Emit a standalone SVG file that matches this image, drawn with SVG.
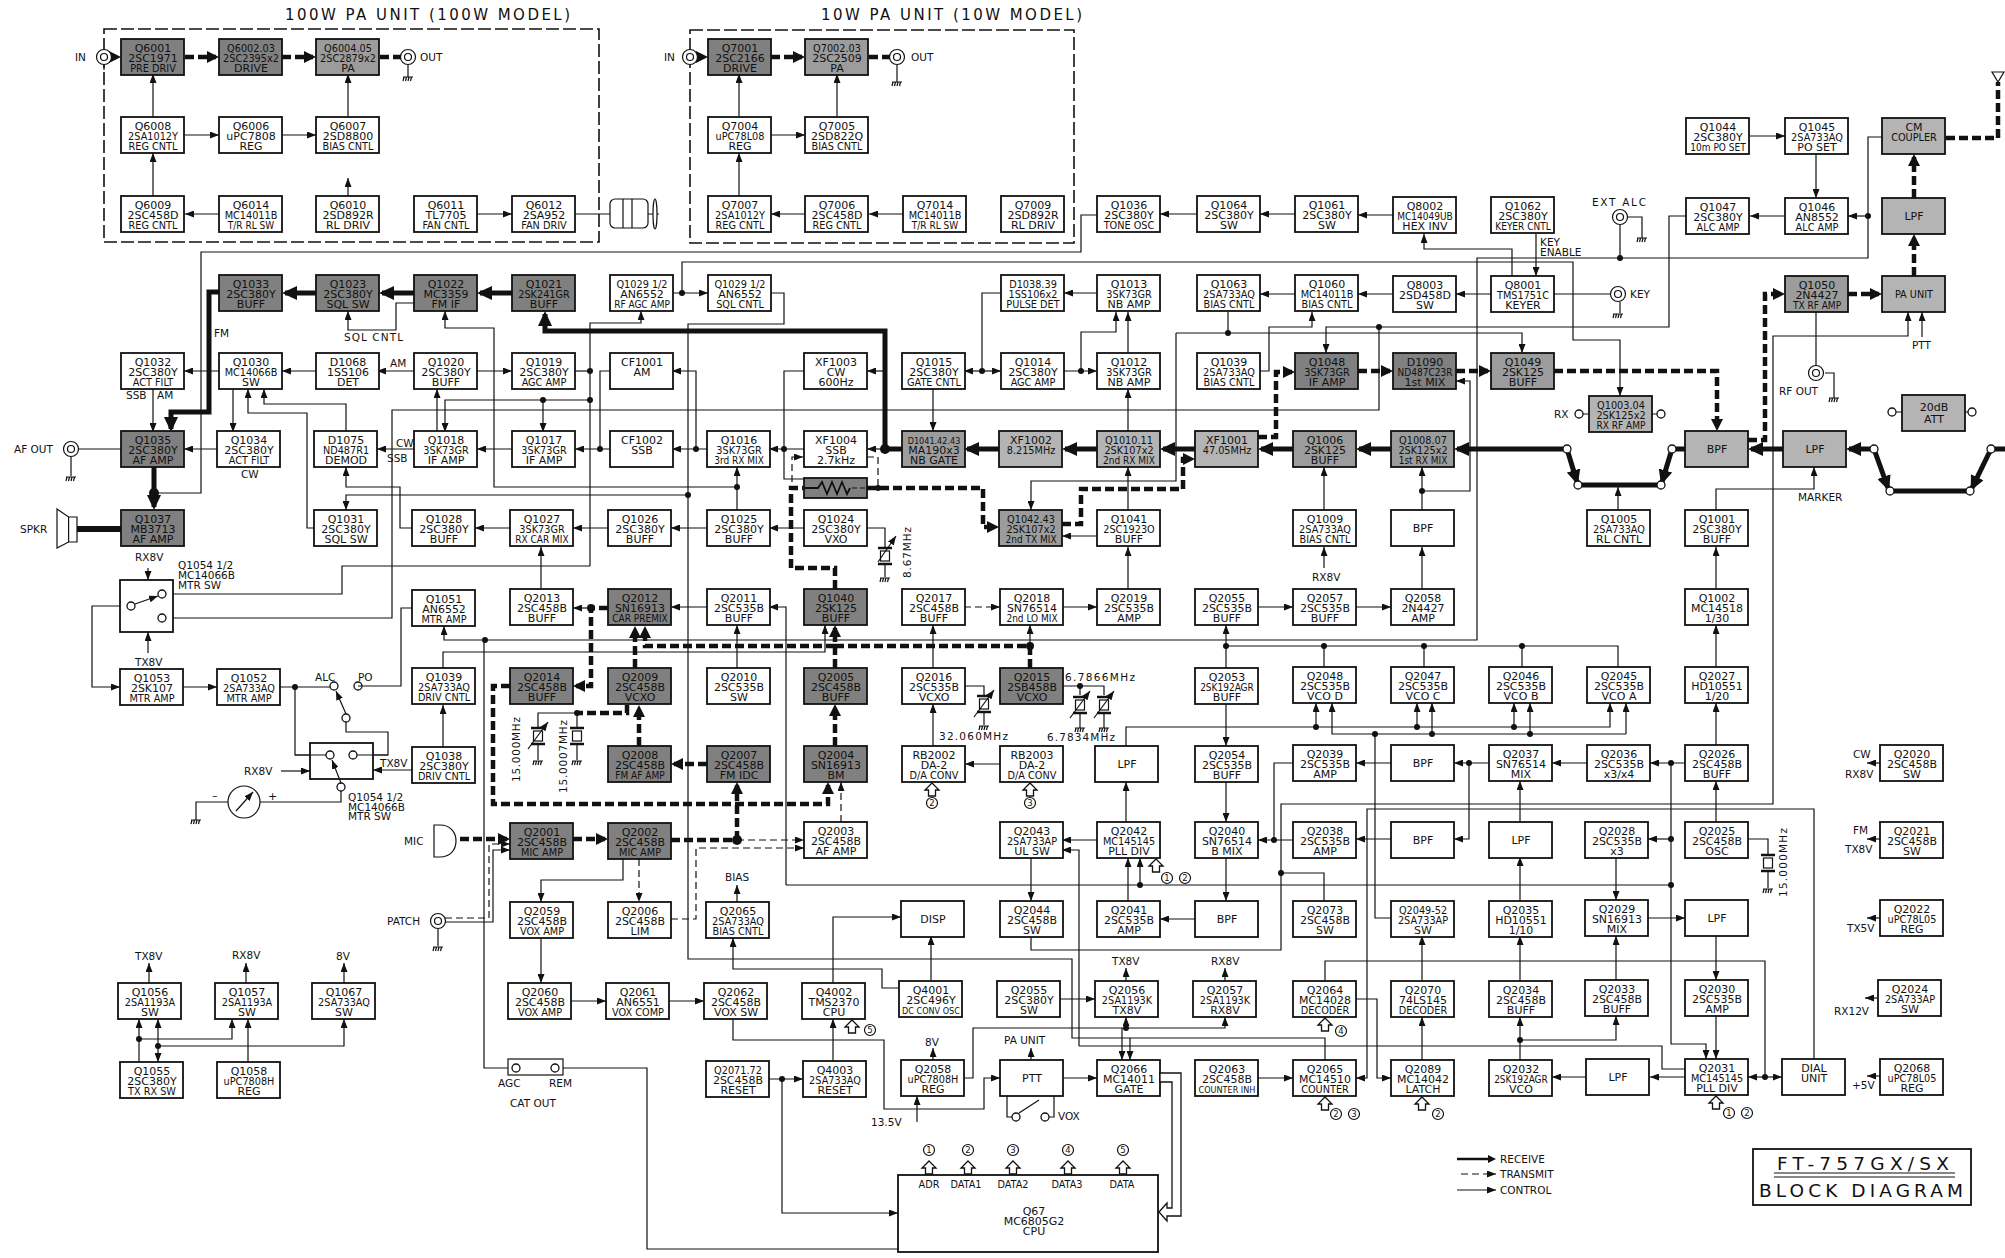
<svg xmlns="http://www.w3.org/2000/svg" width="2005" height="1258" viewBox="0 0 2005 1258">
<style>
text{font-family:"DejaVu Sans","Liberation Sans",sans-serif;font-size:11px;fill:#111}
.n text{text-anchor:middle}
.s,.v,.u{font-family:"DejaVu Sans Condensed","DejaVu Sans",sans-serif;font-stretch:condensed}
.s{font-size:10.8px}
.v{font-size:10px}
.u{font-size:9px}
#labels text,#legend text{font-family:"DejaVu Sans",sans-serif;font-stretch:normal;font-size:10.5px}
.m{text-anchor:middle}
.w{fill:#fff;stroke:#111;stroke-width:1.8}
.d{fill:#808080;stroke:#111;stroke-width:1.8}
.g{fill:#9c9c9c;stroke:#111;stroke-width:1.8}
.l{fill:#b4b4b4;stroke:#111;stroke-width:1.8}
.C,.A,.D,.R,.Rp,.X,.Xp{fill:none;stroke:#111}
.C,.A{stroke-width:1.2}
.A{marker-end:url(#a)}
.D{stroke-width:1.2;stroke-dasharray:7 4;marker-end:url(#a)}
.R,.Rp{stroke-width:5}
.R{marker-end:url(#ar)}
.X,.Xp{stroke-width:4.5;stroke-dasharray:9 4}
.X{marker-end:url(#ax)}
.o{fill:#fff;stroke:#111;stroke-width:1.3}
.j{fill:#111}
.k{fill:#fff;stroke:#111;stroke-width:1.2}
.z{fill:none;stroke:#111;stroke-width:1.2}
.h{fill:#fff;stroke:#111;stroke-width:1.3}
.c{font-size:8.5px;text-anchor:middle}
.dash{fill:none;stroke:#111;stroke-width:1.6;stroke-dasharray:13 4}
</style>
<defs>
<rect id="n" width="63" height="36"/>
<marker id="a" markerUnits="userSpaceOnUse" markerWidth="9" markerHeight="7" refX="9" refY="3.5" orient="auto"><path d="M0 0L9 3.5L0 7Z" fill="#111"/></marker>
<marker id="ar" markerUnits="userSpaceOnUse" markerWidth="15" markerHeight="14" refX="12" refY="7" orient="auto"><path d="M0 0L15 7L0 14Z" fill="#111"/></marker>
<marker id="ax" markerUnits="userSpaceOnUse" markerWidth="12" markerHeight="12" refX="9" refY="6" orient="auto"><path d="M0 0L12 6L0 12Z" fill="#111"/></marker>
<g id="gnd"><path class="z" d="M-5 0H5M-4 0L-5 4M-1.500 0L-2.500 4M1 0L0 4M3.500 0L2.500 4"/></g>
<g id="jack"><circle class="k" r="7.5"/><circle class="k" r="3.5"/></g>
<g id="xt"><path class="z" style="stroke-width:2.4" d="M-7 -8H7M-7 8H7"/><rect class="k" x="-4.500" y="-5" width="9" height="10"/></g>
<g id="xv"><use href="#xt"/><path class="A" d="M-10 13L10 -14"/></g>
<path id="ha" class="h" d="M0 0L7 7H3.500V13H-3.500V7H-7Z"/>
</defs>
<rect width="2005" height="1258" fill="#fff"/>
<path class="dash" d="M104 29H599V242H104Z"/>
<path class="dash" d="M690 30H1074V243H690Z"/>
<text x="285" y="20" style="font-size:15px" textLength="285">100W PA UNIT (100W MODEL)</text>
<text x="821" y="20" style="font-size:15px" textLength="261">10W PA UNIT (10W MODEL)</text>

<g id="connectors">
<g>
<path class="A" d="M153 117V74"/><path class="A" d="M348 117V74"/><path class="A" d="M185 135H219"/><path class="A" d="M282 135H316"/><path class="A" d="M153 196V153"/><path class="A" d="M219 214H185"/><path class="A" d="M348 196V178"/><path class="A" d="M477 214H512"/><path class="C" d="M575 214H610"/>
<path class="A" d="M739 117V74"/><path class="A" d="M837 117V74"/><path class="A" d="M771 135H805"/><path class="A" d="M739 196V153"/><path class="A" d="M805 214H771"/><path class="A" d="M903 214H869"/>
<path class="A" d="M1197 214H1160"/><path class="A" d="M1295 214H1260"/><path class="A" d="M1393 215H1358"/>
<path class="C" d="M1097 215H1081V252H201V493H154"/>
<path class="A" d="M682 293V262H1573V340H1620V396"/><path class="A" d="M672 293H708"/>
<path class="C" d="M771 293H784V324H688V959H1072V1038H1325V1060"/><path class="A" d="M1130 1038V1060"/>
<path class="A" d="M1097 293H1064"/><path class="A" d="M1295 294H1260"/><path class="A" d="M1393 294H1358"/><path class="A" d="M1491 294H1456"/>
<path class="A" d="M1512 276V249H1424V234"/><path class="A" d="M1536 234V276"/><path class="C" d="M1554 294H1611"/>
<path class="A" d="M1750 136H1785"/><path class="A" d="M1816 154V198"/><path class="A" d="M1785 216H1750"/><path class="A" d="M1868 216H1848"/>
<path class="A" d="M1882 137H1868V258H1477V640H444V626"/>
<path class="C" d="M1620 225V258"/><path class="C" d="M1628 217H1642V238"/><path class="C" d="M1620 302V313"/>
<path class="A" d="M1686 216H1669V327H1326V353"/><path class="C" d="M1379 327V410H392V618H168"/>
<path class="A" d="M1176 333H1522V353"/><path class="A" d="M1176 333V481H1031V510"/><path class="C" d="M1228 312V333"/>
<path class="A" d="M1260 371H1269V327H1312V312"/>
<path class="A" d="M1422 491H1470V381H1456"/><path class="A" d="M1422 510V467"/><path class="A" d="M1618 510V487"/>
<path class="A" d="M1716 510V489H1814V467"/><path class="A" d="M1922 337V312"/>
<path class="A" d="M1031 936V950H1281V804H1773V336H1908V312"/><path class="C" d="M1281 873H1324V901"/>
<path class="C" d="M1816 312V366"/><path class="C" d="M1825 373H1834V398"/>
<path class="A" d="M786 885V607H769"/><path class="C" d="M786 885H1671"/><path class="A" d="M1140 885V858"/>
<path class="A" d="M1671 763V1044H1706V1059"/><path class="A" d="M1671 839H1648"/><path class="A" d="M1685 763H1650"/><path class="A" d="M1587 763H1552"/>
<path class="A" d="M737 487H494V328H445V311"/><path class="A" d="M414 303H396V330H348V311"/>
<path class="A" d="M590 566V323H641V311"/><path class="C" d="M590 566H342V594H168"/><path class="C" d="M575 371H590"/>
<path class="A" d="M590 400H445V432"/><path class="A" d="M543 400V432"/><path class="A" d="M437 432V389"/>
<path class="A" d="M414 371H377"/><path class="A" d="M316 371H282"/><path class="A" d="M219 371H184"/><path class="A" d="M477 371H512"/>
<path class="A" d="M153 389V432"/><path class="A" d="M233 389V432"/>
<path class="A" d="M314 528H307V413H248V389"/><path class="A" d="M346 432V404H264V389"/><path class="A" d="M217 449H184"/>
<path class="C" d="M121 449H78"/><path class="C" d="M71 457V476"/>
<path class="A" d="M414 449H377"/><path class="A" d="M512 449H477"/><path class="A" d="M610 449H575"/><path class="C" d="M610 371H600V449"/>
<path class="A" d="M707 449H672"/><path class="A" d="M696 449V371H672"/><path class="A" d="M804 449H769"/><path class="C" d="M804 371H784V479H804"/>
<path class="A" d="M885 371H867"/><path class="A" d="M885 449H867"/>
<path class="A" d="M933 389V431"/><path class="A" d="M982 371H964"/><path class="A" d="M982 371H1001"/><path class="C" d="M982 371V293H1001"/>
<path class="A" d="M1064 371H1097"/><path class="A" d="M1081 371V332H1116V312"/><path class="A" d="M1128 353V312"/><path class="A" d="M1128 431V389"/><path class="A" d="M1128 510V467"/><path class="A" d="M1128 589V547"/><path class="A" d="M1097 536H1062"/>
<path class="A" d="M737 510V467"/><path class="A" d="M707 528H671"/><path class="A" d="M804 528H769"/><path class="A" d="M608 528H573"/><path class="A" d="M510 528H475"/>
<path class="A" d="M412 528H400V487H346V467"/><path class="A" d="M688 495H346V510"/><path class="C" d="M867 528H885V548"/><path class="C" d="M885 564V577"/>
<path class="A" d="M541 590V547"/><path class="A" d="M591 608H573"/><path class="A" d="M707 607H671"/><path class="A" d="M737 668V625"/>
<path class="A" d="M933 668V625"/><path class="A" d="M1030 646V625"/><path class="A" d="M1226 668V625"/><path class="A" d="M1226 704V746"/>
<path class="C" d="M1226 646H1618V667"/><path class="C" d="M1324 646V667"/><path class="C" d="M1424 646V667"/><path class="C" d="M1522 646V667"/>
<path class="A" d="M1062 607H1097"/><path class="A" d="M1258 607H1293"/><path class="A" d="M1356 607H1391"/><path class="A" d="M1422 589V547"/><path class="A" d="M1324 568V547"/><path class="A" d="M1324 510V467"/>
<path class="C" d="M965 686H984V695"/><path class="C" d="M984 713V725"/><path class="A" d="M933 746V704"/><path class="A" d="M1000 764H965"/>
<path class="C" d="M1063 686H1104V695"/><path class="C" d="M1080 686V695"/><path class="C" d="M1080 714V728"/><path class="C" d="M1104 714V728"/>
<path class="A" d="M1126 746V727H1610V703"/><path class="A" d="M1316 727V703"/><path class="A" d="M1417 727V703"/><path class="A" d="M1514 727V703"/>
<path class="A" d="M1626 734V703"/><path class="A" d="M1626 734H1332V703"/><path class="A" d="M1432 734V703"/><path class="A" d="M1530 734V703"/><path class="C" d="M1375 734V918H1391"/>
<path class="A" d="M1226 782V822"/><path class="A" d="M1226 858V901"/><path class="A" d="M1195 919H1160"/><path class="A" d="M1128 901V858"/><path class="A" d="M1126 822V782"/><path class="A" d="M1097 840H1062"/><path class="A" d="M1031 858V901"/>
<path class="A" d="M1079 1046V850H1062"/><path class="C" d="M1079 1046H1662V1069H1685"/>
<path class="A" d="M1293 840H1258"/><path class="C" d="M1274 840V763H1293"/><path class="A" d="M1391 763H1356"/><path class="A" d="M1391 839H1356"/><path class="A" d="M1489 763H1454"/><path class="A" d="M1469 763V839H1454"/>
<path class="A" d="M1520 822V781"/><path class="A" d="M1520 901V857"/><path class="A" d="M1520 981V936"/><path class="A" d="M1520 1060V1017"/><path class="A" d="M1520 1040H1616V1016"/><path class="A" d="M1616 858V900"/><path class="A" d="M1616 981V936"/><path class="A" d="M1648 918H1685"/>
<path class="A" d="M1716 936V980"/><path class="A" d="M1716 1016V1059"/><path class="A" d="M1716 822V781"/><path class="A" d="M1716 745V703"/><path class="A" d="M1716 667V625"/><path class="A" d="M1716 589V547"/>
<path class="A" d="M1685 1077H1650"/><path class="A" d="M1586 1077H1552"/><path class="A" d="M1765 1077H1748"/><path class="A" d="M1765 1077H1782"/><path class="C" d="M1325 981V961H1765V1077"/><path class="A" d="M1814 1059V809H1367V1078H1356"/>
<path class="A" d="M1356 999H1377V1078H1391"/><path class="A" d="M1422 1060V1017"/><path class="A" d="M1422 981V936"/><path class="A" d="M1258 1078H1293"/><path class="A" d="M1062 1078H1097"/><path class="A" d="M1060 999H1095"/>
<path class="A" d="M965 1078H973V1028H1225V1017"/><path class="A" d="M1126 1028V1017"/><path class="A" d="M1122 1028V1060"/><path class="A" d="M1126 981V968"/><path class="A" d="M1225 981V968"/><path class="A" d="M933 1060V1048"/><path class="A" d="M1031 1060V1048"/>
<path class="A" d="M931 981V936"/><path class="A" d="M833 983V917H901"/><path class="A" d="M899 988H882V969H733V938"/><path class="A" d="M737 902V885"/><path class="A" d="M833 1061V1019"/><path class="A" d="M769 1079H803"/><path class="A" d="M782 1079V1213H898"/>
<path class="C" d="M563 1068H647V1249H898"/><path class="C" d="M484 640V1068H508"/><path class="A" d="M733 1019V1040H884V1109H984V1078H1000"/><path class="A" d="M917 1122V1096"/>
<path class="A" d="M541 938V983"/><path class="A" d="M571 1001H606"/><path class="A" d="M669 1001H704"/><path class="A" d="M623 859V880H541V902"/>
<path class="A" d="M443 747V705"/><path class="A" d="M443 668V652H825V625"/><path class="A" d="M412 770H373"/><path class="A" d="M281 771H310"/><path class="C" d="M412 608H401V686H362"/>
<path class="C" d="M280 687H330"/><path class="A" d="M183 687H217"/><path class="C" d="M295 687V755H326"/><path class="C" d="M357 755H388V732H346V722"/><path class="A" d="M127 606H92V687H120"/>
<path class="A" d="M148 568V580"/><path class="A" d="M148 653V632"/><path class="A" d="M346 714L336 691"/>
<path class="C" d="M341 791V802H260"/><path class="C" d="M228 802H196V820"/>
<path class="A" d="M149 983V963"/><path class="A" d="M246 983V963"/><path class="A" d="M344 983V963"/><path class="A" d="M139 1062V1019"/><path class="A" d="M158 1046V1019"/><path class="A" d="M158 1046V1062"/><path class="A" d="M139 1039H232V1019"/><path class="A" d="M158 1046H344V1019"/><path class="A" d="M248 1062V1019"/>
<path class="A" d="M1880 763H1867"/><path class="A" d="M1880 839H1867"/><path class="A" d="M1880 918H1867"/><path class="A" d="M1878 998H1865"/><path class="A" d="M1880 1076H1867"/>
<path class="C" d="M577 713H538V727"/><path class="C" d="M577 713V727"/><path class="C" d="M577 745V760"/><path class="C" d="M538 745V760"/><path class="C" d="M1748 839H1768V855"/><path class="C" d="M1768 871V888"/>
<path class="C" d="M408 65V77"/><path class="C" d="M897 65V82"/><path class="C" d="M104 64V70"/><path class="C" d="M438 929V946"/>
<path class="D" d="M964 607H1000"/><path class="D" d="M737 840H804"/><path class="D" d="M671 919H696V848H804"/><path class="D" d="M841 822V782"/><path class="D" d="M639 859V902"/><path class="D" d="M445 918H489V844H510"/><path class="A" d="M445 922H493V850H510"/>
<path class="D" d="M792 482V457H803"/><path class="D" style="marker-end:none" d="M867 457H878V488"/>
<path class="R" d="M512 293H480"/><path class="R" d="M414 293H382"/><path class="R" d="M316 293H285"/><path class="R" d="M219 292H209V412H171V429"/><path class="R" d="M885 449V331H545V314"/>
<path class="R" d="M154 467V507"/><path class="Rp" style="stroke-width:6" d="M121 529H77"/><path class="Rp" d="M902 449H885"/><path class="R" d="M999 449H967"/><path class="R" d="M1097 449H1065"/><path class="R" d="M1195 449H1163"/><path class="R" d="M1293 449H1261"/><path class="R" d="M1391 449H1359"/><path class="R" d="M1567 449H1457"/>
<path class="R" d="M1567 449L1577 482"/><path class="R" d="M1672 449L1662 482"/><path class="Rp" d="M1578 485H1661"/><path class="Rp" d="M1685 449H1672"/><path class="R" d="M1783 449H1751"/><path class="R" d="M1874 449H1849"/>
<path class="R" d="M1874 449L1888 488"/><path class="R" d="M1991 449L1972 488"/><path class="Rp" d="M1890 491H1970"/><path class="Rp" d="M1991 449H2005"/>
<path class="X" d="M107 57H118"/><path class="X" d="M185 57H216"/><path class="X" d="M282 57H313"/><path class="Xp" d="M380 57H401"/><path class="X" d="M693 57H705"/><path class="X" d="M771 57H802"/><path class="Xp" d="M869 57H890"/>
<path class="Xp" d="M835 589V568H791V488H803"/><path class="X" d="M867 488H983V527H996"/><path class="X" d="M1062 524H1081V489H1183V459H1192"/>
<path class="X" d="M1258 437H1276V372H1292"/><path class="X" d="M1358 371H1390"/><path class="X" d="M1456 371H1488"/><path class="X" d="M1554 371H1717V428"/><path class="X" d="M1748 440H1765V294H1782"/><path class="X" d="M1848 294H1879"/><path class="X" d="M1914 276V237"/><path class="X" d="M1914 198V157"/><path class="Xp" d="M1946 138H1998V82"/>
<path class="X" d="M737 840V785"/><path class="Xp" d="M671 840H737"/><path class="X" d="M573 839H605"/><path class="X" d="M460 839H507"/><path class="X" d="M835 746V707"/><path class="X" d="M835 668V628"/><path class="Xp" d="M835 646H1030V668"/><path class="X" d="M835 646H645V629"/><path class="X" d="M635 668V629"/><path class="X" d="M639 746V708"/><path class="X" d="M707 764H674"/>
<path class="X" d="M510 686H493V804H828V785"/><path class="X" d="M608 608H591V686H576"/><path class="Xp" d="M627 705V713H577"/>
</g>
<g class="j">
<circle cx="154" cy="493" r="5"/><circle cx="885" cy="449" r="5"/><circle cx="737" cy="840" r="5"/><circle cx="1030" cy="646" r="4"/><circle cx="591" cy="608" r="4"/>
<circle cx="682" cy="293" r="3"/><circle cx="1620" cy="258" r="3"/><circle cx="485" cy="640" r="3"/><circle cx="1868" cy="216" r="3"/><circle cx="1379" cy="327" r="3"/><circle cx="1228" cy="333" r="3"/><circle cx="1422" cy="491" r="3"/><circle cx="1281" cy="873" r="3"/><circle cx="1140" cy="885" r="3"/><circle cx="1671" cy="885" r="3"/><circle cx="1671" cy="763" r="3"/><circle cx="1671" cy="839" r="3"/>
<circle cx="590" cy="371" r="3"/><circle cx="590" cy="400" r="3"/><circle cx="543" cy="400" r="3"/><circle cx="600" cy="449" r="3"/><circle cx="696" cy="449" r="3"/><circle cx="784" cy="449" r="3"/><circle cx="982" cy="371" r="3"/><circle cx="1081" cy="371" r="3"/><circle cx="737" cy="487" r="3"/><circle cx="688" cy="495" r="3"/><circle cx="878" cy="488" r="3"/>
<circle cx="1226" cy="646" r="3"/><circle cx="1324" cy="646" r="3"/><circle cx="1424" cy="646" r="3"/><circle cx="1522" cy="646" r="3"/><circle cx="1080" cy="686" r="3"/><circle cx="1316" cy="727" r="3"/><circle cx="1417" cy="727" r="3"/><circle cx="1514" cy="727" r="3"/><circle cx="1375" cy="734" r="3"/><circle cx="1432" cy="734" r="3"/><circle cx="1530" cy="734" r="3"/>
<circle cx="1274" cy="840" r="3"/><circle cx="1469" cy="763" r="3"/><circle cx="1520" cy="1040" r="3"/><circle cx="1765" cy="1077" r="3"/><circle cx="1126" cy="1028" r="3"/><circle cx="782" cy="1079" r="3"/><circle cx="295" cy="687" r="3"/><circle cx="139" cy="1039" r="3"/><circle cx="158" cy="1046" r="3"/><circle cx="577" cy="713" r="3"/>
</g>
</g>

<g class="n">
<g id="Q6001" transform="translate(121,39)"><use href="#n" class="d"/><text x="32" y="12.500">Q6001</text><text x="32" y="22.500">2SC1971</text><text x="32" y="32.500" class="s">PRE DRIV</text></g>
<g id="Q6002" transform="translate(219,39)"><use href="#n" class="d"/><text x="32" y="12.500" class="s">Q6002.03</text><text x="32" y="22.500" class="s">2SC2395x2</text><text x="32" y="32.500">DRIVE</text></g>
<g id="Q6004" transform="translate(316,39)"><use href="#n" class="g"/><text x="32" y="12.500" class="s">Q6004.05</text><text x="32" y="22.500" class="s">2SC2879x2</text><text x="32" y="32.500">PA</text></g>
<g id="Q7001" transform="translate(708,39)"><use href="#n" class="d"/><text x="32" y="12.500">Q7001</text><text x="32" y="22.500">2SC2166</text><text x="32" y="32.500">DRIVE</text></g>
<g id="Q7002" transform="translate(805,39)"><use href="#n" class="g"/><text x="32" y="12.500" class="s">Q7002.03</text><text x="32" y="22.500">2SC2509</text><text x="32" y="32.500">PA</text></g>
<g id="Q6008" transform="translate(121,117)"><use href="#n" class="w"/><text x="32" y="12.500">Q6008</text><text x="32" y="22.500" class="s">2SA1012Y</text><text x="32" y="32.500" class="s">REG CNTL</text></g>
<g id="Q6006" transform="translate(219,117)"><use href="#n" class="w"/><text x="32" y="12.500">Q6006</text><text x="32" y="22.500">uPC7808</text><text x="32" y="32.500">REG</text></g>
<g id="Q6007" transform="translate(316,117)"><use href="#n" class="w"/><text x="32" y="12.500">Q6007</text><text x="32" y="22.500">2SD8800</text><text x="32" y="32.500" class="s">BIAS CNTL</text></g>
<g id="Q7004" transform="translate(708,117)"><use href="#n" class="w"/><text x="32" y="12.500">Q7004</text><text x="32" y="22.500" class="s">uPC78L08</text><text x="32" y="32.500">REG</text></g>
<g id="Q7005" transform="translate(805,117)"><use href="#n" class="w"/><text x="32" y="12.500">Q7005</text><text x="32" y="22.500">2SD822Q</text><text x="32" y="32.500" class="s">BIAS CNTL</text></g>
<g id="Q1044" transform="translate(1686,118)"><use href="#n" class="w"/><text x="32" y="12.500">Q1044</text><text x="32" y="22.500">2SC380Y</text><text x="32" y="32.500" class="v">10m PO SET</text></g>
<g id="Q1045" transform="translate(1785,118)"><use href="#n" class="w"/><text x="32" y="12.500">Q1045</text><text x="32" y="22.500" class="s">2SA733AQ</text><text x="32" y="32.500">PO SET</text></g>
<g id="CM_COUPLER" transform="translate(1882,118)"><use href="#n" class="l"/><text x="32" y="13">CM</text><text x="32" y="23" class="s">COUPLER</text></g>
<g id="Q6009" transform="translate(121,196)"><use href="#n" class="w"/><text x="32" y="12.500">Q6009</text><text x="32" y="22.500">2SC458D</text><text x="32" y="32.500" class="s">REG CNTL</text></g>
<g id="Q6014" transform="translate(219,196)"><use href="#n" class="w"/><text x="32" y="12.500">Q6014</text><text x="32" y="22.500" class="s">MC14011B</text><text x="32" y="32.500" class="v">T/R RL SW</text></g>
<g id="Q6010" transform="translate(316,196)"><use href="#n" class="w"/><text x="32" y="12.500">Q6010</text><text x="32" y="22.500">2SD892R</text><text x="32" y="32.500">RL DRIV</text></g>
<g id="Q6011" transform="translate(414,196)"><use href="#n" class="w"/><text x="32" y="12.500">Q6011</text><text x="32" y="22.500">TL7705</text><text x="32" y="32.500" class="s">FAN CNTL</text></g>
<g id="Q6012" transform="translate(512,196)"><use href="#n" class="w"/><text x="32" y="12.500">Q6012</text><text x="32" y="22.500">2SA952</text><text x="32" y="32.500" class="s">FAN DRIV</text></g>
<g id="Q7007" transform="translate(708,196)"><use href="#n" class="w"/><text x="32" y="12.500">Q7007</text><text x="32" y="22.500" class="s">2SA1012Y</text><text x="32" y="32.500" class="s">REG CNTL</text></g>
<g id="Q7006" transform="translate(805,196)"><use href="#n" class="w"/><text x="32" y="12.500">Q7006</text><text x="32" y="22.500">2SC458D</text><text x="32" y="32.500" class="s">REG CNTL</text></g>
<g id="Q7014" transform="translate(903,196)"><use href="#n" class="w"/><text x="32" y="12.500">Q7014</text><text x="32" y="22.500" class="s">MC14011B</text><text x="32" y="32.500" class="v">T/R RL SW</text></g>
<g id="Q7009" transform="translate(1001,196)"><use href="#n" class="w"/><text x="32" y="12.500">Q7009</text><text x="32" y="22.500">2SD892R</text><text x="32" y="32.500">RL DRIV</text></g>
<g id="Q1036" transform="translate(1097,196)"><use href="#n" class="w"/><text x="32" y="12.500">Q1036</text><text x="32" y="22.500">2SC380Y</text><text x="32" y="32.500" class="s">TONE OSC</text></g>
<g id="Q1064" transform="translate(1197,196)"><use href="#n" class="w"/><text x="32" y="12.500">Q1064</text><text x="32" y="22.500">2SC380Y</text><text x="32" y="32.500">SW</text></g>
<g id="Q1061" transform="translate(1295,196)"><use href="#n" class="w"/><text x="32" y="12.500">Q1061</text><text x="32" y="22.500">2SC380Y</text><text x="32" y="32.500">SW</text></g>
<g id="Q8002" transform="translate(1393,197)"><use href="#n" class="w"/><text x="32" y="12.500">Q8002</text><text x="32" y="22.500" class="v">MC14049UB</text><text x="32" y="32.500">HEX INV</text></g>
<g id="Q1062" transform="translate(1491,197)"><use href="#n" class="w"/><text x="32" y="12.500">Q1062</text><text x="32" y="22.500">2SC380Y</text><text x="32" y="32.500" class="v">KEYER CNTL</text></g>
<g id="Q1047" transform="translate(1686,198)"><use href="#n" class="w"/><text x="32" y="12.500">Q1047</text><text x="32" y="22.500">2SC380Y</text><text x="32" y="32.500" class="s">ALC AMP</text></g>
<g id="Q1046" transform="translate(1785,198)"><use href="#n" class="w"/><text x="32" y="12.500">Q1046</text><text x="32" y="22.500">AN8552</text><text x="32" y="32.500" class="s">ALC AMP</text></g>
<g id="LPF_a" transform="translate(1882,198)"><use href="#n" class="l"/><text x="32" y="22">LPF</text></g>
<g id="Q1033" transform="translate(219,275)"><use href="#n" class="d"/><text x="32" y="12.500">Q1033</text><text x="32" y="22.500">2SC380Y</text><text x="32" y="32.500">BUFF</text></g>
<g id="Q1023" transform="translate(316,275)"><use href="#n" class="d"/><text x="32" y="12.500">Q1023</text><text x="32" y="22.500">2SC380Y</text><text x="32" y="32.500">SQL SW</text></g>
<g id="Q1022" transform="translate(414,275)"><use href="#n" class="d"/><text x="32" y="12.500">Q1022</text><text x="32" y="22.500">MC3359</text><text x="32" y="32.500">FM IF</text></g>
<g id="Q1021" transform="translate(512,275)"><use href="#n" class="d"/><text x="32" y="12.500">Q1021</text><text x="32" y="22.500" class="s">2SK241GR</text><text x="32" y="32.500">BUFF</text></g>
<g id="Q1029a" transform="translate(610,275)"><use href="#n" class="w"/><text x="32" y="12.500" class="s">Q1029 1/2</text><text x="32" y="22.500">AN6552</text><text x="32" y="32.500" class="v">RF AGC AMP</text></g>
<g id="Q1029b" transform="translate(708,275)"><use href="#n" class="w"/><text x="32" y="12.500" class="s">Q1029 1/2</text><text x="32" y="22.500">AN6552</text><text x="32" y="32.500" class="s">SQL CNTL</text></g>
<g id="D1038" transform="translate(1001,275)"><use href="#n" class="w"/><text x="32" y="12.500" class="s">D1038.39</text><text x="32" y="22.500" class="s">1SS106x2</text><text x="32" y="32.500" class="s">PULSE DET</text></g>
<g id="Q1013" transform="translate(1097,275)"><use href="#n" class="w"/><text x="32" y="12.500">Q1013</text><text x="32" y="22.500" class="s">3SK73GR</text><text x="32" y="32.500">NB AMP</text></g>
<g id="Q1063" transform="translate(1197,275)"><use href="#n" class="w"/><text x="32" y="12.500">Q1063</text><text x="32" y="22.500" class="s">2SA733AQ</text><text x="32" y="32.500" class="s">BIAS CNTL</text></g>
<g id="Q1060" transform="translate(1295,275)"><use href="#n" class="w"/><text x="32" y="12.500">Q1060</text><text x="32" y="22.500" class="s">MC14011B</text><text x="32" y="32.500" class="s">BIAS CNTL</text></g>
<g id="Q8003" transform="translate(1393,276)"><use href="#n" class="w"/><text x="32" y="12.500">Q8003</text><text x="32" y="22.500">2SD458D</text><text x="32" y="32.500">SW</text></g>
<g id="Q8001" transform="translate(1491,276)"><use href="#n" class="w"/><text x="32" y="12.500">Q8001</text><text x="32" y="22.500" class="s">TMS1751C</text><text x="32" y="32.500">KEYER</text></g>
<g id="Q1050" transform="translate(1785,276)"><use href="#n" class="g"/><text x="32" y="12.500">Q1050</text><text x="32" y="22.500">2N4427</text><text x="32" y="32.500" class="v">TX RF AMP</text></g>
<g id="PA_UNIT" transform="translate(1882,276)"><use href="#n" class="l"/><text x="32" y="22" class="s">PA UNIT</text></g>
<g id="Q1032" transform="translate(121,353)"><use href="#n" class="w"/><text x="32" y="12.500">Q1032</text><text x="32" y="22.500">2SC380Y</text><text x="32" y="32.500" class="s">ACT FILT</text></g>
<g id="Q1030" transform="translate(219,353)"><use href="#n" class="w"/><text x="32" y="12.500">Q1030</text><text x="32" y="22.500" class="s">MC14066B</text><text x="32" y="32.500">SW</text></g>
<g id="D1068" transform="translate(316,353)"><use href="#n" class="w"/><text x="32" y="12.500">D1068</text><text x="32" y="22.500">1SS106</text><text x="32" y="32.500">DET</text></g>
<g id="Q1020" transform="translate(414,353)"><use href="#n" class="w"/><text x="32" y="12.500">Q1020</text><text x="32" y="22.500">2SC380Y</text><text x="32" y="32.500">BUFF</text></g>
<g id="Q1019" transform="translate(512,353)"><use href="#n" class="w"/><text x="32" y="12.500">Q1019</text><text x="32" y="22.500">2SC380Y</text><text x="32" y="32.500" class="s">AGC AMP</text></g>
<g id="CF1001" transform="translate(610,353)"><use href="#n" class="w"/><text x="32" y="12.500">CF1001</text><text x="32" y="22.500">AM</text></g>
<g id="XF1003" transform="translate(804,353)"><use href="#n" class="w"/><text x="32" y="12.500">XF1003</text><text x="32" y="22.500">CW</text><text x="32" y="32.500">600Hz</text></g>
<g id="Q1015" transform="translate(902,353)"><use href="#n" class="w"/><text x="32" y="12.500">Q1015</text><text x="32" y="22.500">2SC380Y</text><text x="32" y="32.500" class="s">GATE CNTL</text></g>
<g id="Q1014" transform="translate(1001,353)"><use href="#n" class="w"/><text x="32" y="12.500">Q1014</text><text x="32" y="22.500">2SC380Y</text><text x="32" y="32.500" class="s">AGC AMP</text></g>
<g id="Q1012" transform="translate(1097,353)"><use href="#n" class="w"/><text x="32" y="12.500">Q1012</text><text x="32" y="22.500" class="s">3SK73GR</text><text x="32" y="32.500">NB AMP</text></g>
<g id="Q1039a" transform="translate(1197,353)"><use href="#n" class="w"/><text x="32" y="12.500">Q1039</text><text x="32" y="22.500" class="s">2SA733AQ</text><text x="32" y="32.500" class="s">BIAS CNTL</text></g>
<g id="Q1048" transform="translate(1295,353)"><use href="#n" class="d"/><text x="32" y="12.500">Q1048</text><text x="32" y="22.500" class="s">3SK73GR</text><text x="32" y="32.500">IF AMP</text></g>
<g id="D1090" transform="translate(1393,353)"><use href="#n" class="d"/><text x="32" y="12.500">D1090</text><text x="32" y="22.500" class="v">ND487C23R</text><text x="32" y="32.500">1st MIX</text></g>
<g id="Q1049" transform="translate(1491,353)"><use href="#n" class="g"/><text x="32" y="12.500">Q1049</text><text x="32" y="22.500">2SK125</text><text x="32" y="32.500">BUFF</text></g>
<g id="Q1003" transform="translate(1589,396)"><use href="#n" class="l"/><text x="32" y="12.500" class="s">Q1003.04</text><text x="32" y="22.500" class="s">2SK125x2</text><text x="32" y="32.500" class="v">RX RF AMP</text></g>
<g id="ATT" transform="translate(1902,395)"><use href="#n" class="l"/><text x="32" y="16">20dB</text><text x="32" y="28">ATT</text></g>
<g id="Q1035" transform="translate(121,431)"><use href="#n" class="d"/><text x="32" y="12.500">Q1035</text><text x="32" y="22.500">2SC380Y</text><text x="32" y="32.500">AF AMP</text></g>
<g id="Q1034" transform="translate(217,431)"><use href="#n" class="w"/><text x="32" y="12.500">Q1034</text><text x="32" y="22.500">2SC380Y</text><text x="32" y="32.500" class="s">ACT FILT</text></g>
<g id="D1075" transform="translate(314,431)"><use href="#n" class="w"/><text x="32" y="12.500">D1075</text><text x="32" y="22.500" class="s">ND487R1</text><text x="32" y="32.500">DEMOD</text></g>
<g id="Q1018" transform="translate(414,431)"><use href="#n" class="w"/><text x="32" y="12.500">Q1018</text><text x="32" y="22.500" class="s">3SK73GR</text><text x="32" y="32.500">IF AMP</text></g>
<g id="Q1017" transform="translate(512,431)"><use href="#n" class="w"/><text x="32" y="12.500">Q1017</text><text x="32" y="22.500" class="s">3SK73GR</text><text x="32" y="32.500">IF AMP</text></g>
<g id="CF1002" transform="translate(610,431)"><use href="#n" class="w"/><text x="32" y="12.500">CF1002</text><text x="32" y="22.500">SSB</text></g>
<g id="Q1016" transform="translate(707,431)"><use href="#n" class="w"/><text x="32" y="12.500">Q1016</text><text x="32" y="22.500" class="s">3SK73GR</text><text x="32" y="32.500" class="v">3rd RX MIX</text></g>
<g id="XF1004" transform="translate(804,431)"><use href="#n" class="w"/><text x="32" y="12.500">XF1004</text><text x="32" y="22.500">SSB</text><text x="32" y="32.500">2.7kHz</text></g>
<g id="D1041" transform="translate(902,431)"><use href="#n" class="g"/><text x="32" y="12.500" class="u">D1041.42.43</text><text x="32" y="22.500">MA190x3</text><text x="32" y="32.500">NB GATE</text></g>
<g id="XF1002" transform="translate(999,431)"><use href="#n" class="l"/><text x="32" y="12.500">XF1002</text><text x="32" y="22.500" class="s">8.215MHz</text></g>
<g id="Q1010" transform="translate(1097,431)"><use href="#n" class="l"/><text x="32" y="12.500" class="s">Q1010.11</text><text x="32" y="22.500" class="s">2SK107x2</text><text x="32" y="32.500" class="v">2nd RX MIX</text></g>
<g id="XF1001" transform="translate(1195,431)"><use href="#n" class="l"/><text x="32" y="12.500">XF1001</text><text x="32" y="22.500" class="s">47.05MHz</text></g>
<g id="Q1006" transform="translate(1293,431)"><use href="#n" class="g"/><text x="32" y="12.500">Q1006</text><text x="32" y="22.500">2SK125</text><text x="32" y="32.500">BUFF</text></g>
<g id="Q1008" transform="translate(1391,431)"><use href="#n" class="g"/><text x="32" y="12.500" class="s">Q1008.07</text><text x="32" y="22.500" class="s">2SK125x2</text><text x="32" y="32.500" class="v">1st RX MIX</text></g>
<g id="BPF_a" transform="translate(1685,431)"><use href="#n" class="l"/><text x="32" y="22">BPF</text></g>
<g id="LPF_b" transform="translate(1783,431)"><use href="#n" class="l"/><text x="32" y="22">LPF</text></g>
<g id="Q1037" transform="translate(121,510)"><use href="#n" class="d"/><text x="32" y="12.500">Q1037</text><text x="32" y="22.500">MB3713</text><text x="32" y="32.500">AF AMP</text></g>
<g id="Q1031" transform="translate(314,510)"><use href="#n" class="w"/><text x="32" y="12.500">Q1031</text><text x="32" y="22.500">2SC380Y</text><text x="32" y="32.500">SQL SW</text></g>
<g id="Q1028" transform="translate(412,510)"><use href="#n" class="w"/><text x="32" y="12.500">Q1028</text><text x="32" y="22.500">2SC380Y</text><text x="32" y="32.500">BUFF</text></g>
<g id="Q1027" transform="translate(510,510)"><use href="#n" class="w"/><text x="32" y="12.500">Q1027</text><text x="32" y="22.500" class="s">3SK73GR</text><text x="32" y="32.500" class="v">RX CAR MIX</text></g>
<g id="Q1026" transform="translate(608,510)"><use href="#n" class="w"/><text x="32" y="12.500">Q1026</text><text x="32" y="22.500">2SC380Y</text><text x="32" y="32.500">BUFF</text></g>
<g id="Q1025" transform="translate(707,510)"><use href="#n" class="w"/><text x="32" y="12.500">Q1025</text><text x="32" y="22.500">2SC380Y</text><text x="32" y="32.500">BUFF</text></g>
<g id="Q1024" transform="translate(804,510)"><use href="#n" class="w"/><text x="32" y="12.500">Q1024</text><text x="32" y="22.500">2SC380Y</text><text x="32" y="32.500">VXO</text></g>
<g id="Q1042" transform="translate(999,510)"><use href="#n" class="g"/><text x="32" y="12.500" class="s">Q1042.43</text><text x="32" y="22.500" class="s">2SK107x2</text><text x="32" y="32.500" class="v">2nd TX MIX</text></g>
<g id="Q1041" transform="translate(1097,510)"><use href="#n" class="w"/><text x="32" y="12.500">Q1041</text><text x="32" y="22.500" class="s">2SC1923O</text><text x="32" y="32.500">BUFF</text></g>
<g id="Q1009" transform="translate(1293,510)"><use href="#n" class="w"/><text x="32" y="12.500">Q1009</text><text x="32" y="22.500" class="s">2SA733AQ</text><text x="32" y="32.500" class="s">BIAS CNTL</text></g>
<g id="BPF_b" transform="translate(1391,510)"><use href="#n" class="w"/><text x="32" y="22">BPF</text></g>
<g id="Q1005" transform="translate(1587,510)"><use href="#n" class="w"/><text x="32" y="12.500">Q1005</text><text x="32" y="22.500" class="s">2SA733AQ</text><text x="32" y="32.500">RL CNTL</text></g>
<g id="Q1001" transform="translate(1685,510)"><use href="#n" class="w"/><text x="32" y="12.500">Q1001</text><text x="32" y="22.500">2SC380Y</text><text x="32" y="32.500">BUFF</text></g>
<g id="Q1051" transform="translate(412,590)"><use href="#n" class="w"/><text x="32" y="12.500">Q1051</text><text x="32" y="22.500">AN6552</text><text x="32" y="32.500" class="s">MTR AMP</text></g>
<g id="Q2013" transform="translate(510,589)"><use href="#n" class="w"/><text x="32" y="12.500">Q2013</text><text x="32" y="22.500">2SC458B</text><text x="32" y="32.500">BUFF</text></g>
<g id="Q2012" transform="translate(608,589)"><use href="#n" class="d"/><text x="32" y="12.500">Q2012</text><text x="32" y="22.500">SN16913</text><text x="32" y="32.500" class="v">CAR PREMIX</text></g>
<g id="Q2011" transform="translate(707,589)"><use href="#n" class="w"/><text x="32" y="12.500">Q2011</text><text x="32" y="22.500">2SC535B</text><text x="32" y="32.500">BUFF</text></g>
<g id="Q1040" transform="translate(804,589)"><use href="#n" class="d"/><text x="32" y="12.500">Q1040</text><text x="32" y="22.500">2SK125</text><text x="32" y="32.500">BUFF</text></g>
<g id="Q2017" transform="translate(902,589)"><use href="#n" class="w"/><text x="32" y="12.500">Q2017</text><text x="32" y="22.500">2SC458B</text><text x="32" y="32.500">BUFF</text></g>
<g id="Q2018" transform="translate(1000,589)"><use href="#n" class="w"/><text x="32" y="12.500">Q2018</text><text x="32" y="22.500">SN76514</text><text x="32" y="32.500" class="v">2nd LO MIX</text></g>
<g id="Q2019" transform="translate(1097,589)"><use href="#n" class="w"/><text x="32" y="12.500">Q2019</text><text x="32" y="22.500">2SC535B</text><text x="32" y="32.500">AMP</text></g>
<g id="Q2055a" transform="translate(1195,589)"><use href="#n" class="w"/><text x="32" y="12.500">Q2055</text><text x="32" y="22.500">2SC535B</text><text x="32" y="32.500">BUFF</text></g>
<g id="Q2057a" transform="translate(1293,589)"><use href="#n" class="w"/><text x="32" y="12.500">Q2057</text><text x="32" y="22.500">2SC535B</text><text x="32" y="32.500">BUFF</text></g>
<g id="Q2058a" transform="translate(1391,589)"><use href="#n" class="w"/><text x="32" y="12.500">Q2058</text><text x="32" y="22.500">2N4427</text><text x="32" y="32.500">AMP</text></g>
<g id="Q1002" transform="translate(1685,589)"><use href="#n" class="w"/><text x="32" y="12.500">Q1002</text><text x="32" y="22.500">MC14518</text><text x="32" y="32.500">1/30</text></g>
<g id="Q1053" transform="translate(120,669)"><use href="#n" class="w"/><text x="32" y="12.500">Q1053</text><text x="32" y="22.500">2SK107</text><text x="32" y="32.500" class="s">MTR AMP</text></g>
<g id="Q1052" transform="translate(217,669)"><use href="#n" class="w"/><text x="32" y="12.500">Q1052</text><text x="32" y="22.500" class="s">2SA733AQ</text><text x="32" y="32.500" class="s">MTR AMP</text></g>
<g id="Q1039b" transform="translate(412,668)"><use href="#n" class="w"/><text x="32" y="12.500">Q1039</text><text x="32" y="22.500" class="s">2SA733AQ</text><text x="32" y="32.500" class="s">DRIV CNTL</text></g>
<g id="Q2014" transform="translate(510,668)"><use href="#n" class="d"/><text x="32" y="12.500">Q2014</text><text x="32" y="22.500">2SC458B</text><text x="32" y="32.500">BUFF</text></g>
<g id="Q2009" transform="translate(608,668)"><use href="#n" class="d"/><text x="32" y="12.500">Q2009</text><text x="32" y="22.500">2SC458B</text><text x="32" y="32.500">VCXO</text></g>
<g id="Q2010" transform="translate(707,668)"><use href="#n" class="w"/><text x="32" y="12.500">Q2010</text><text x="32" y="22.500">2SC535B</text><text x="32" y="32.500">SW</text></g>
<g id="Q2005" transform="translate(804,668)"><use href="#n" class="d"/><text x="32" y="12.500">Q2005</text><text x="32" y="22.500">2SC458B</text><text x="32" y="32.500">BUFF</text></g>
<g id="Q2016" transform="translate(902,668)"><use href="#n" class="w"/><text x="32" y="12.500">Q2016</text><text x="32" y="22.500">2SC535B</text><text x="32" y="32.500">VCXO</text></g>
<g id="Q2015" transform="translate(1000,668)"><use href="#n" class="d"/><text x="32" y="12.500">Q2015</text><text x="32" y="22.500">2SB458B</text><text x="32" y="32.500">VCXO</text></g>
<g id="Q2053" transform="translate(1195,668)"><use href="#n" class="w"/><text x="32" y="12.500">Q2053</text><text x="32" y="22.500" class="v">2SK192AGR</text><text x="32" y="32.500">BUFF</text></g>
<g id="Q2048" transform="translate(1293,667)"><use href="#n" class="w"/><text x="32" y="12.500">Q2048</text><text x="32" y="22.500">2SC535B</text><text x="32" y="32.500">VCO D</text></g>
<g id="Q2047" transform="translate(1391,667)"><use href="#n" class="w"/><text x="32" y="12.500">Q2047</text><text x="32" y="22.500">2SC535B</text><text x="32" y="32.500">VCO C</text></g>
<g id="Q2046" transform="translate(1489,667)"><use href="#n" class="w"/><text x="32" y="12.500">Q2046</text><text x="32" y="22.500">2SC535B</text><text x="32" y="32.500">VCO B</text></g>
<g id="Q2045" transform="translate(1587,667)"><use href="#n" class="w"/><text x="32" y="12.500">Q2045</text><text x="32" y="22.500">2SC535B</text><text x="32" y="32.500">VCO A</text></g>
<g id="Q2027" transform="translate(1685,667)"><use href="#n" class="w"/><text x="32" y="12.500">Q2027</text><text x="32" y="22.500">HD10551</text><text x="32" y="32.500">1/20</text></g>
<g id="Q1038" transform="translate(412,747)"><use href="#n" class="w"/><text x="32" y="12.500">Q1038</text><text x="32" y="22.500">2SC380Y</text><text x="32" y="32.500" class="s">DRIV CNTL</text></g>
<g id="Q2008" transform="translate(608,746)"><use href="#n" class="d"/><text x="32" y="12.500">Q2008</text><text x="32" y="22.500">2SC458B</text><text x="32" y="32.500" class="v">FM AF AMP</text></g>
<g id="Q2007" transform="translate(707,746)"><use href="#n" class="d"/><text x="32" y="12.500">Q2007</text><text x="32" y="22.500">2SC458B</text><text x="32" y="32.500">FM IDC</text></g>
<g id="Q2004" transform="translate(804,746)"><use href="#n" class="d"/><text x="32" y="12.500">Q2004</text><text x="32" y="22.500">SN16913</text><text x="32" y="32.500">BM</text></g>
<g id="RB2002" transform="translate(902,746)"><use href="#n" class="w"/><text x="32" y="12.500">RB2002</text><text x="32" y="22.500">DA-2</text><text x="32" y="32.500" class="s">D/A CONV</text></g>
<g id="RB2003" transform="translate(1000,746)"><use href="#n" class="w"/><text x="32" y="12.500">RB2003</text><text x="32" y="22.500">DA-2</text><text x="32" y="32.500" class="s">D/A CONV</text></g>
<g id="LPF_c" transform="translate(1095,746)"><use href="#n" class="w"/><text x="32" y="22">LPF</text></g>
<g id="Q2054" transform="translate(1195,746)"><use href="#n" class="w"/><text x="32" y="12.500">Q2054</text><text x="32" y="22.500">2SC535B</text><text x="32" y="32.500">BUFF</text></g>
<g id="Q2039" transform="translate(1293,745)"><use href="#n" class="w"/><text x="32" y="12.500">Q2039</text><text x="32" y="22.500">2SC535B</text><text x="32" y="32.500">AMP</text></g>
<g id="BPF_c" transform="translate(1391,745)"><use href="#n" class="w"/><text x="32" y="22">BPF</text></g>
<g id="Q2037" transform="translate(1489,745)"><use href="#n" class="w"/><text x="32" y="12.500">Q2037</text><text x="32" y="22.500">SN76514</text><text x="32" y="32.500">MIX</text></g>
<g id="Q2036" transform="translate(1587,745)"><use href="#n" class="w"/><text x="32" y="12.500">Q2036</text><text x="32" y="22.500">2SC535B</text><text x="32" y="32.500">x3/x4</text></g>
<g id="Q2026" transform="translate(1685,745)"><use href="#n" class="w"/><text x="32" y="12.500">Q2026</text><text x="32" y="22.500">2SC458B</text><text x="32" y="32.500">BUFF</text></g>
<g id="Q2020" transform="translate(1880,745)"><use href="#n" class="w"/><text x="32" y="12.500">Q2020</text><text x="32" y="22.500">2SC458B</text><text x="32" y="32.500">SW</text></g>
<g id="Q2001" transform="translate(510,823)"><use href="#n" class="d"/><text x="32" y="12.500">Q2001</text><text x="32" y="22.500">2SC458B</text><text x="32" y="32.500" class="s">MIC AMP</text></g>
<g id="Q2002" transform="translate(608,823)"><use href="#n" class="d"/><text x="32" y="12.500">Q2002</text><text x="32" y="22.500">2SC458B</text><text x="32" y="32.500" class="s">MIC AMP</text></g>
<g id="Q2003" transform="translate(804,822)"><use href="#n" class="w"/><text x="32" y="12.500">Q2003</text><text x="32" y="22.500">2SC458B</text><text x="32" y="32.500">AF AMP</text></g>
<g id="Q2043" transform="translate(1000,822)"><use href="#n" class="w"/><text x="32" y="12.500">Q2043</text><text x="32" y="22.500" class="s">2SA733AP</text><text x="32" y="32.500">UL SW</text></g>
<g id="Q2042" transform="translate(1097,822)"><use href="#n" class="w"/><text x="32" y="12.500">Q2042</text><text x="32" y="22.500" class="s">MC145145</text><text x="32" y="32.500">PLL DIV</text></g>
<g id="Q2040" transform="translate(1195,822)"><use href="#n" class="w"/><text x="32" y="12.500">Q2040</text><text x="32" y="22.500">SN76514</text><text x="32" y="32.500">B MIX</text></g>
<g id="Q2038" transform="translate(1293,822)"><use href="#n" class="w"/><text x="32" y="12.500">Q2038</text><text x="32" y="22.500">2SC535B</text><text x="32" y="32.500">AMP</text></g>
<g id="BPF_d" transform="translate(1391,822)"><use href="#n" class="w"/><text x="32" y="22">BPF</text></g>
<g id="LPF_d" transform="translate(1489,822)"><use href="#n" class="w"/><text x="32" y="22">LPF</text></g>
<g id="Q2028" transform="translate(1585,822)"><use href="#n" class="w"/><text x="32" y="12.500">Q2028</text><text x="32" y="22.500">2SC535B</text><text x="32" y="32.500">x3</text></g>
<g id="Q2025" transform="translate(1685,822)"><use href="#n" class="w"/><text x="32" y="12.500">Q2025</text><text x="32" y="22.500">2SC458B</text><text x="32" y="32.500">OSC</text></g>
<g id="Q2021" transform="translate(1880,822)"><use href="#n" class="w"/><text x="32" y="12.500">Q2021</text><text x="32" y="22.500">2SC458B</text><text x="32" y="32.500">SW</text></g>
<g id="Q2059" transform="translate(510,902)"><use href="#n" class="w"/><text x="32" y="12.500">Q2059</text><text x="32" y="22.500">2SC458B</text><text x="32" y="32.500" class="s">VOX AMP</text></g>
<g id="Q2006" transform="translate(608,902)"><use href="#n" class="w"/><text x="32" y="12.500">Q2006</text><text x="32" y="22.500">2SC458B</text><text x="32" y="32.500">LIM</text></g>
<g id="Q2065a" transform="translate(706,902)"><use href="#n" class="w"/><text x="32" y="12.500">Q2065</text><text x="32" y="22.500" class="s">2SA733AQ</text><text x="32" y="32.500" class="s">BIAS CNTL</text></g>
<g id="DISP" transform="translate(901,901)"><use href="#n" class="w"/><text x="32" y="22">DISP</text></g>
<g id="Q2044" transform="translate(1000,901)"><use href="#n" class="w"/><text x="32" y="12.500">Q2044</text><text x="32" y="22.500">2SC458B</text><text x="32" y="32.500">SW</text></g>
<g id="Q2041" transform="translate(1097,901)"><use href="#n" class="w"/><text x="32" y="12.500">Q2041</text><text x="32" y="22.500">2SC535B</text><text x="32" y="32.500">AMP</text></g>
<g id="BPF_e" transform="translate(1195,901)"><use href="#n" class="w"/><text x="32" y="22">BPF</text></g>
<g id="Q2073" transform="translate(1293,901)"><use href="#n" class="w"/><text x="32" y="12.500">Q2073</text><text x="32" y="22.500">2SC458B</text><text x="32" y="32.500">SW</text></g>
<g id="Q2049" transform="translate(1391,901)"><use href="#n" class="w"/><text x="32" y="12.500" class="s">Q2049-52</text><text x="32" y="22.500" class="s">2SA733AP</text><text x="32" y="32.500">SW</text></g>
<g id="Q2035" transform="translate(1489,901)"><use href="#n" class="w"/><text x="32" y="12.500">Q2035</text><text x="32" y="22.500">HD10551</text><text x="32" y="32.500">1/10</text></g>
<g id="Q2029" transform="translate(1585,900)"><use href="#n" class="w"/><text x="32" y="12.500">Q2029</text><text x="32" y="22.500">SN16913</text><text x="32" y="32.500">MIX</text></g>
<g id="LPF_e" transform="translate(1685,900)"><use href="#n" class="w"/><text x="32" y="22">LPF</text></g>
<g id="Q2022" transform="translate(1880,900)"><use href="#n" class="w"/><text x="32" y="12.500">Q2022</text><text x="32" y="22.500" class="s">uPC78L05</text><text x="32" y="32.500">REG</text></g>
<g id="Q1056" transform="translate(118,983)"><use href="#n" class="w"/><text x="32" y="12.500">Q1056</text><text x="32" y="22.500" class="s">2SA1193A</text><text x="32" y="32.500">SW</text></g>
<g id="Q1057" transform="translate(215,983)"><use href="#n" class="w"/><text x="32" y="12.500">Q1057</text><text x="32" y="22.500" class="s">2SA1193A</text><text x="32" y="32.500">SW</text></g>
<g id="Q1067" transform="translate(312,983)"><use href="#n" class="w"/><text x="32" y="12.500">Q1067</text><text x="32" y="22.500" class="s">2SA733AQ</text><text x="32" y="32.500">SW</text></g>
<g id="Q2060" transform="translate(508,983)"><use href="#n" class="w"/><text x="32" y="12.500">Q2060</text><text x="32" y="22.500">2SC458B</text><text x="32" y="32.500" class="s">VOX AMP</text></g>
<g id="Q2061" transform="translate(606,983)"><use href="#n" class="w"/><text x="32" y="12.500">Q2061</text><text x="32" y="22.500">AN6551</text><text x="32" y="32.500" class="s">VOX COMP</text></g>
<g id="Q2062" transform="translate(704,983)"><use href="#n" class="w"/><text x="32" y="12.500">Q2062</text><text x="32" y="22.500">2SC458B</text><text x="32" y="32.500">VOX SW</text></g>
<g id="Q4002" transform="translate(802,983)"><use href="#n" class="w"/><text x="32" y="12.500">Q4002</text><text x="32" y="22.500">TMS2370</text><text x="32" y="32.500">CPU</text></g>
<g id="Q4001" transform="translate(899,981)"><use href="#n" class="w"/><text x="32" y="12.500">Q4001</text><text x="32" y="22.500">2SC496Y</text><text x="32" y="32.500" class="u">DC CONV OSC</text></g>
<g id="Q2055b" transform="translate(997,981)"><use href="#n" class="w"/><text x="32" y="12.500">Q2055</text><text x="32" y="22.500">2SC380Y</text><text x="32" y="32.500">SW</text></g>
<g id="Q2056" transform="translate(1095,981)"><use href="#n" class="w"/><text x="32" y="12.500">Q2056</text><text x="32" y="22.500" class="s">2SA1193K</text><text x="32" y="32.500">TX8V</text></g>
<g id="Q2057b" transform="translate(1193,981)"><use href="#n" class="w"/><text x="32" y="12.500">Q2057</text><text x="32" y="22.500" class="s">2SA1193K</text><text x="32" y="32.500">RX8V</text></g>
<g id="Q2064" transform="translate(1293,981)"><use href="#n" class="w"/><text x="32" y="12.500">Q2064</text><text x="32" y="22.500">MC14028</text><text x="32" y="32.500" class="s">DECODER</text></g>
<g id="Q2070" transform="translate(1391,981)"><use href="#n" class="w"/><text x="32" y="12.500">Q2070</text><text x="32" y="22.500">74LS145</text><text x="32" y="32.500" class="s">DECODER</text></g>
<g id="Q2034" transform="translate(1489,981)"><use href="#n" class="w"/><text x="32" y="12.500">Q2034</text><text x="32" y="22.500">2SC458B</text><text x="32" y="32.500">BUFF</text></g>
<g id="Q2033" transform="translate(1585,980)"><use href="#n" class="w"/><text x="32" y="12.500">Q2033</text><text x="32" y="22.500">2SC458B</text><text x="32" y="32.500">BUFF</text></g>
<g id="Q2030" transform="translate(1685,980)"><use href="#n" class="w"/><text x="32" y="12.500">Q2030</text><text x="32" y="22.500">2SC535B</text><text x="32" y="32.500">AMP</text></g>
<g id="Q2024" transform="translate(1878,980)"><use href="#n" class="w"/><text x="32" y="12.500">Q2024</text><text x="32" y="22.500" class="s">2SA733AP</text><text x="32" y="32.500">SW</text></g>
<g id="Q1055" transform="translate(120,1062)"><use href="#n" class="w"/><text x="32" y="12.500">Q1055</text><text x="32" y="22.500">2SC380Y</text><text x="32" y="32.500" class="s">TX RX SW</text></g>
<g id="Q1058" transform="translate(217,1062)"><use href="#n" class="w"/><text x="32" y="12.500">Q1058</text><text x="32" y="22.500" class="s">uPC7808H</text><text x="32" y="32.500">REG</text></g>
<g id="Q2071" transform="translate(706,1061)"><use href="#n" class="w"/><text x="32" y="12.500" class="s">Q2071.72</text><text x="32" y="22.500">2SC458B</text><text x="32" y="32.500">RESET</text></g>
<g id="Q4003" transform="translate(803,1061)"><use href="#n" class="w"/><text x="32" y="12.500">Q4003</text><text x="32" y="22.500" class="s">2SA733AQ</text><text x="32" y="32.500">RESET</text></g>
<g id="Q2058b" transform="translate(901,1060)"><use href="#n" class="w"/><text x="32" y="12.500">Q2058</text><text x="32" y="22.500" class="s">uPC7808H</text><text x="32" y="32.500">REG</text></g>
<g id="PTT" transform="translate(1000,1060)"><use href="#n" class="w"/><text x="32" y="22">PTT</text></g>
<g id="Q2066" transform="translate(1097,1060)"><use href="#n" class="w"/><text x="32" y="12.500">Q2066</text><text x="32" y="22.500">MC14011</text><text x="32" y="32.500">GATE</text></g>
<g id="Q2063" transform="translate(1195,1060)"><use href="#n" class="w"/><text x="32" y="12.500">Q2063</text><text x="32" y="22.500">2SC458B</text><text x="32" y="32.500" class="u">COUNTER INH</text></g>
<g id="Q2065b" transform="translate(1293,1060)"><use href="#n" class="w"/><text x="32" y="12.500">Q2065</text><text x="32" y="22.500">MC14510</text><text x="32" y="32.500" class="s">COUNTER</text></g>
<g id="Q2089" transform="translate(1391,1060)"><use href="#n" class="w"/><text x="32" y="12.500">Q2089</text><text x="32" y="22.500">MC14042</text><text x="32" y="32.500">LATCH</text></g>
<g id="Q2032" transform="translate(1489,1060)"><use href="#n" class="w"/><text x="32" y="12.500">Q2032</text><text x="32" y="22.500" class="v">2SK192AGR</text><text x="32" y="32.500">VCO</text></g>
<g id="LPF_f" transform="translate(1586,1059)"><use href="#n" class="w"/><text x="32" y="22">LPF</text></g>
<g id="Q2031" transform="translate(1685,1059)"><use href="#n" class="w"/><text x="32" y="12.500">Q2031</text><text x="32" y="22.500" class="s">MC145145</text><text x="32" y="32.500">PLL DIV</text></g>
<g id="DIAL" transform="translate(1782,1059)"><use href="#n" class="w"/><text x="32" y="13">DIAL</text><text x="32" y="23">UNIT</text></g>
<g id="Q2068" transform="translate(1880,1059)"><use href="#n" class="w"/><text x="32" y="12.500">Q2068</text><text x="32" y="22.500" class="s">uPC78L05</text><text x="32" y="32.500">REG</text></g>
<g id="Q67"><rect class="w" x="898" y="1175" width="260" height="77"/><text x="929" y="1188" class="s">ADR</text><text x="966" y="1188" class="s">DATA1</text><text x="1013" y="1188" class="s">DATA2</text><text x="1067" y="1188" class="s">DATA3</text><text x="1122" y="1188" class="s">DATA</text><text x="1034" y="1215">Q67</text><text x="1034" y="1225">MC6805G2</text><text x="1034" y="1235">CPU</text></g>
</g>

<g id="attenuator"><rect class="d" x="804" y="478" width="63" height="20"/><path class="z" style="stroke-width:1.800" d="M804 488H818L822 482L827 494L832 482L837 494L842 482L847 494L850 488"/><path class="z" stroke-dasharray="5 3" d="M852 488H867"/></g>
<g id="switch1"><rect class="k" style="stroke-width:1.800" x="120" y="580" width="53" height="52"/><circle class="o" cx="131" cy="606" r="4"/><circle class="o" cx="162" cy="594" r="4"/><circle class="o" cx="162" cy="618" r="4"/><path class="A" d="M135 604L158 596"/></g>
<g id="switch2"><rect class="k" style="stroke-width:1.800" x="310" y="743" width="63" height="36"/><circle class="o" cx="330" cy="755" r="4"/><circle class="o" cx="353" cy="755" r="4"/><circle class="o" cx="341" cy="787" r="4"/><path class="A" d="M341 783L332 760"/><path class="C" d="M295 755H326M357 755H388"/></g>
<g id="contacts"><circle class="o" cx="334" cy="686" r="4"/><circle class="o" cx="358" cy="686" r="4"/><circle class="o" cx="346" cy="718" r="4"/><circle class="o" cx="1567" cy="449" r="4"/><circle class="o" cx="1578" cy="485" r="4"/><circle class="o" cx="1661" cy="485" r="4"/><circle class="o" cx="1672" cy="449" r="4"/><circle class="o" cx="1874" cy="449" r="4"/><circle class="o" cx="1890" cy="491" r="4"/><circle class="o" cx="1970" cy="491" r="4"/><circle class="o" cx="1991" cy="449" r="4"/><circle class="o" cx="1579" cy="414" r="4"/><circle class="o" cx="1661" cy="414" r="4"/><circle class="o" cx="1892" cy="412" r="4"/><circle class="o" cx="1972" cy="412" r="4"/><path class="C" d="M1583 414H1589M1652 414H1657M1896 412H1902M1965 412H1968M358 686H362"/></g>
<g id="meter"><circle class="k" cx="244" cy="802" r="16"/><path class="A" d="M236 811L253 792"/><text x="212" y="799">–</text><text x="268" y="800">+</text></g>
<g id="fan"><rect class="k" x="610" y="199" width="38" height="29" rx="5"/><path class="z" d="M623 199V228M632 199V228M648 214H659"/><ellipse class="k" cx="655" cy="214" rx="2" ry="15"/></g>
<g id="speaker"><path class="k" d="M57 509L68.600 517H77V542H68.600L57 548Z M68.600 517V542"/></g>
<g id="mic"><path class="k" d="M434 825H440C450 825 456 832 456 841C456 850 450 857 440 857H434Z"/></g>
<g id="catout"><rect class="k" x="508" y="1059" width="55" height="16"/><circle class="o" cx="516" cy="1068" r="4"/><circle class="o" cx="555" cy="1068" r="4"/></g>
<g id="ptt-switch"><path class="C" d="M1007 1096V1117H1012M1054 1096V1117H1049M1019 1113L1039 1100"/><circle class="o" cx="1016" cy="1117" r="4"/><circle class="o" cx="1045" cy="1117" r="4"/></g>
<g id="antenna"><path class="k" d="M1992 72H2004L1998 82Z"/></g>
<g id="jacks"><use href="#jack" x="104" y="57"/><use href="#jack" x="408" y="57"/><use href="#jack" x="690" y="57"/><use href="#jack" x="897" y="57"/><use href="#jack" x="1620" y="217"/><use href="#jack" x="1618" y="294"/><use href="#jack" x="1816" y="373"/><use href="#jack" x="71" y="449"/><use href="#jack" x="438" y="921"/></g>
<g id="grounds"><use href="#gnd" x="408" y="77"/><use href="#gnd" x="897" y="82"/><use href="#gnd" x="1642" y="238"/><use href="#gnd" x="1618" y="314"/><use href="#gnd" x="1834" y="398"/><use href="#gnd" x="71" y="477"/><use href="#gnd" x="885" y="578"/><use href="#gnd" x="196" y="820"/><use href="#gnd" x="538" y="761"/><use href="#gnd" x="577" y="761"/><use href="#gnd" x="984" y="726"/><use href="#gnd" x="1080" y="728"/><use href="#gnd" x="1104" y="728"/><use href="#gnd" x="1768" y="889"/><use href="#gnd" x="438" y="947"/></g>
<g id="crystals"><use href="#xt" x="885" y="556"/><use href="#xv" x="538" y="736"/><use href="#xt" x="577" y="736"/><use href="#xv" x="984" y="704"/><use href="#xv" x="1080" y="705"/><use href="#xv" x="1104" y="705"/><use href="#xt" x="1768" y="863"/><path class="A" d="M878 562L896 536"/></g>
<g id="data-arrows"><use href="#ha" x="932" y="783"/><use href="#ha" x="1030" y="783"/><use href="#ha" x="1156" y="859"/><use href="#ha" x="1325" y="1018"/><use href="#ha" x="1325" y="1097"/><use href="#ha" x="1422" y="1097"/><use href="#ha" x="1716" y="1096"/><use href="#ha" x="852" y="1020"/><use href="#ha" x="929" y="1161"/><use href="#ha" x="968" y="1161"/><use href="#ha" x="1013" y="1161"/><use href="#ha" x="1068" y="1161"/><use href="#ha" x="1123" y="1161"/><path class="h" d="M1159 1212L1167 1203V1208H1172V1082H1160V1073H1181V1216H1167V1221Z" style="fill:#fff"/></g>
<g id="marks"><circle class="k" cx="932" cy="803" r="5.500"/><text class="c" x="932" y="806">2</text><circle class="k" cx="1030" cy="803" r="5.500"/><text class="c" x="1030" y="806">3</text><circle class="k" cx="1167" cy="878" r="5.500"/><text class="c" x="1167" y="881">1</text><circle class="k" cx="1185" cy="878" r="5.500"/><text class="c" x="1185" y="881">2</text><circle class="k" cx="1341" cy="1031" r="5.500"/><text class="c" x="1341" y="1034">4</text><circle class="k" cx="1336" cy="1114" r="5.500"/><text class="c" x="1336" y="1117">2</text><circle class="k" cx="1354" cy="1114" r="5.500"/><text class="c" x="1354" y="1117">3</text><circle class="k" cx="1438" cy="1114" r="5.500"/><text class="c" x="1438" y="1117">2</text><circle class="k" cx="1729" cy="1113" r="5.500"/><text class="c" x="1729" y="1116">1</text><circle class="k" cx="1747" cy="1113" r="5.500"/><text class="c" x="1747" y="1116">2</text><circle class="k" cx="870" cy="1030" r="5.500"/><text class="c" x="870" y="1033">5</text><circle class="k" cx="929" cy="1150" r="5.500"/><text class="c" x="929" y="1153">1</text><circle class="k" cx="968" cy="1150" r="5.500"/><text class="c" x="968" y="1153">2</text><circle class="k" cx="1013" cy="1150" r="5.500"/><text class="c" x="1013" y="1153">3</text><circle class="k" cx="1068" cy="1150" r="5.500"/><text class="c" x="1068" y="1153">4</text><circle class="k" cx="1123" cy="1150" r="5.500"/><text class="c" x="1123" y="1153">5</text></g>

<g id="labels">
<text x="75" y="61">IN</text><text x="420" y="61" class="s">OUT</text><text x="664" y="61">IN</text><text x="911" y="61" class="s">OUT</text>
<text x="1592" y="206" class="s" textLength="54">EXT ALC</text><text x="1540" y="246" class="s">KEY</text><text x="1540" y="256" class="s">ENABLE</text><text x="1630" y="298" class="s">KEY</text>
<text x="1779" y="395" class="s">RF OUT</text><text x="1912" y="349" class="s">PTT</text><text x="1554" y="418" class="s">RX</text><text x="1798" y="501" class="s">MARKER</text>
<text x="214" y="337" class="s">FM</text><text x="344" y="341" class="s" textLength="59">SQL CNTL</text><text x="390" y="367" class="s">AM</text><text x="126" y="399" class="s">SSB</text><text x="157" y="399" class="s">AM</text><text x="241" y="478" class="s">CW</text><text x="396" y="447" class="s">CW</text><text x="387" y="462" class="s">SSB</text>
<text x="14" y="453" class="s">AF OUT</text><text x="20" y="533" class="s">SPKR</text>
<text x="135" y="561" class="s">RX8V</text><text x="135" y="666" class="s">TX8V</text><text x="178" y="569" class="s">Q1054 1/2</text><text x="178" y="579" class="s">MC14066B</text><text x="178" y="589" class="s">MTR SW</text>
<text x="315" y="681" class="s">ALC</text><text x="358" y="681" class="s">PO</text><text x="244" y="775" class="s">RX8V</text><text x="380" y="767" class="s">TX8V</text><text x="348" y="801" class="s">Q1054 1/2</text><text x="348" y="811" class="s">MC14066B</text><text x="348" y="820" class="s">MTR SW</text>
<text x="404" y="845" class="s">MIC</text><text x="387" y="925" class="s">PATCH</text><text x="725" y="881" class="s">BIAS</text>
<text x="135" y="960" class="s">TX8V</text><text x="232" y="959" class="s">RX8V</text><text x="336" y="960" class="s">8V</text>
<text x="498" y="1087" class="s">AGC</text><text x="549" y="1087" class="s">REM</text><text x="510" y="1107" class="s">CAT OUT</text>
<text x="1112" y="965" class="s">TX8V</text><text x="1211" y="965" class="s">RX8V</text><text x="925" y="1046" class="s">8V</text><text x="1004" y="1044" class="s">PA UNIT</text><text x="871" y="1126" class="s">13.5V</text><text x="1058" y="1120" class="s">VOX</text>
<text x="1312" y="581" class="s">RX8V</text><text x="1065" y="681" class="s" textLength="70">6.7866MHz</text><text x="1047" y="741" class="s" textLength="68">6.7834MHz</text><text x="939" y="740" class="s" textLength="69">32.060MHz</text>
<text x="1853" y="758" class="s">CW</text><text x="1845" y="778" class="s">RX8V</text><text x="1853" y="834" class="s">FM</text><text x="1845" y="853" class="s">TX8V</text><text x="1847" y="932" class="s">TX5V</text><text x="1834" y="1015" class="s">RX12V</text><text x="1852" y="1089" class="s">+5V</text>
<text transform="rotate(-90 911 578)" x="911" y="578" class="s" textLength="51">8.67MHz</text><text transform="rotate(-90 520 782)" x="520" y="782" class="s" textLength="65">15.000MHz</text><text transform="rotate(-90 567 793)" x="567" y="793" class="s" textLength="73">15.0007MHz</text><text transform="rotate(-90 1787 897)" x="1787" y="897" class="s" textLength="69">15.000MHz</text>
</g>
<g id="legend"><path class="Rp" style="stroke-width:2.500" d="M1457 1159H1492"/><path class="D" d="M1461 1174H1496"/><path class="A" d="M1457 1190H1496"/><path d="M1488 1155L1496 1159L1488 1163Z" fill="#111"/><text x="1500" y="1163" class="s">RECEIVE</text><text x="1500" y="1178" class="s">TRANSMIT</text><text x="1500" y="1194" class="s">CONTROL</text></g>
<g id="title"><rect x="1753" y="1149" width="218" height="56" fill="#fff" stroke="#111" stroke-width="1.800"/><path d="M1774 1173H1955M1774 1177H1955" stroke="#111" stroke-width="1.200" fill="none"/><text x="1777" y="1170" style="font-size:18.500px" textLength="172">FT-757GX/SX</text><text x="1759" y="1197" style="font-size:18.500px" textLength="204">BLOCK DIAGRAM</text></g>
</svg>
